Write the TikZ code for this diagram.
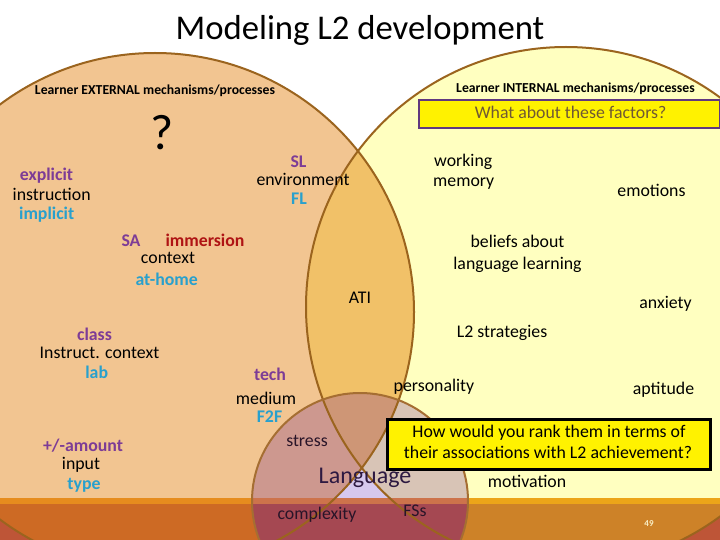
\documentclass[tikz,border=0pt]{standalone}
\usepackage{fontspec}
\setmainfont{Carlito}
\definecolor{peach}{RGB}{242,197,145}
\definecolor{yellowf}{RGB}{255,255,192}
\definecolor{lensc}{RGB}{241,193,104}
\definecolor{lav}{RGB}{214,200,238}
\definecolor{mauve}{RGB}{205,152,143}
\definecolor{greyb}{RGB}{216,196,182}
\definecolor{tanm}{RGB}{206,150,118}
\definecolor{bandout}{RGB}{190,85,55}
\definecolor{bandpeach}{RGB}{205,106,36}
\definecolor{bandyellow}{RGB}{205,130,40}
\definecolor{bandrose}{RGB}{165,72,82}
\definecolor{thinpeach}{RGB}{230,140,30}
\definecolor{thinyellow}{RGB}{236,165,25}
\definecolor{thinrose}{RGB}{205,115,75}
\definecolor{edgec}{RGB}{155,100,30}
\definecolor{edgeb}{RGB}{165,110,50}
\definecolor{purp}{RGB}{125,60,150}
\definecolor{cyanc}{RGB}{40,160,205}
\definecolor{dred}{RGB}{175,20,20}
\definecolor{boxtxt}{RGB}{112,88,52}
\definecolor{boxborder}{RGB}{96,56,128}
\definecolor{langcol}{RGB}{45,25,65}
\definecolor{darktxt}{RGB}{40,20,40}
\definecolor{numc}{RGB}{250,240,200}
\begin{document}
\begin{tikzpicture}[x=1pt,y=-1pt,
  t/.style={inner sep=0pt, anchor=base, font=\fontsize{17.8}{21}\selectfont},
  tb/.style={t, font=\fontsize{17.8}{21}\selectfont\bfseries},
  pu/.style={tb, text=purp},
  cy/.style={tb, text=cyanc},
  hd/.style={inner sep=0pt, anchor=base, font=\fontsize{13.7}{16}\selectfont\bfseries},
  bigedge/.style={draw=edgec, line width=2pt},
  smalledge/.style={draw=edgeb, line width=2pt}]
\useasboundingbox (0,0) rectangle (720,540);
\fill[white] (0,0) rectangle (720,540);
% big circles
\fill[peach] (155,312) circle[radius=259pt];
\fill[yellowf] (566,307) circle[radius=260pt];
\begin{scope}
  \clip (155,312) circle[radius=259pt];
  \fill[lensc] (566,307) circle[radius=260pt];
\end{scope}
% language circle
\begin{scope}
  \clip (360,501) circle[radius=108pt];
  \fill[lav] (0,0) rectangle (720,540);
  \fill[mauve] (155,312) circle[radius=259pt];
  \fill[greyb] (566,307) circle[radius=260pt];
  \clip (155,312) circle[radius=259pt];
  \fill[tanm] (566,307) circle[radius=260pt];
\end{scope}
% bottom band
\begin{scope}
  \clip (0,498) rectangle (720,504);
  \fill[bandout] (0,498) rectangle (720,504);
  \fill[thinpeach] (155,312) circle[radius=259pt];
  \fill[thinyellow] (566,307) circle[radius=260pt];
  \fill[thinrose] (360,501) circle[radius=108pt];
\end{scope}
\begin{scope}
  \clip (0,504) rectangle (720,540);
  \fill[bandout] (0,504) rectangle (720,540);
  \fill[bandpeach] (155,312) circle[radius=259pt];
  \fill[bandyellow] (566,307) circle[radius=260pt];
  \fill[bandrose] (360,501) circle[radius=108pt];
\end{scope}
% outlines
\draw[bigedge] (155,312) circle[radius=259pt];
\draw[bigedge] (566,307) circle[radius=260pt];
\draw[smalledge] (360,501) circle[radius=108pt];
% title
\node[inner sep=0pt, anchor=base, font=\fontsize{34.7}{40}\selectfont] (title) at (360,40) {Modeling L2 development};
% headers
\node[hd] (hext) at (155,95) {Learner EXTERNAL mechanisms/processes};
\node[hd] (hint) at (575.5,92.7) {Learner INTERNAL mechanisms/processes};
% yellow boxes
\node[draw=boxborder, line width=2pt, fill=yellow, minimum width=301pt, minimum height=28pt, inner sep=0pt, anchor=north west] (box1) at (418,99) {};
\node[t, text=boxtxt] (q1) at (570.6,119) {What about these factors?};
\node[inner sep=0pt, anchor=base, font=\fontsize{50}{56}\selectfont] (qm) at (162,150) {?};
% external
\node[pu] (expl) at (46.5,181) {explicit};
\node[t] (instr) at (51.7,200.7) {instruction};
\node[cy] (impl) at (46.7,219) {implicit};
\node[pu] (sl) at (298.5,168) {SL};
\node[t] (env) at (303,185.5) {environment};
\node[cy] (fl) at (299,205) {FL};
\node[pu] (sa) at (131,247) {SA};
\node[tb, text=dred] (imm) at (205,247) {immersion};
\node[t] (ctx) at (168,263) {context};
\node[cy] (ath) at (166.7,285) {at-home};
\node[pu] (cls) at (94.5,340.7) {class};
\node[t] (ictx) at (99.5,358.3) {Instruct. context};
\node[cy] (lab) at (96.7,378.3) {lab};
\node[pu] (tech) at (270,380) {tech};
\node[t] (med) at (266,404) {medium};
\node[cy] (f2f) at (269.5,422.7) {F2F};
\node[pu] (amt) at (83,451.7) {+/-amount};
\node[t] (inp) at (81,469) {input};
\node[cy] (typ) at (84,489) {type};
% internal
\node[t, anchor=base west] (wk) at (434,166.7) {working};
\node[t, anchor=base west] (mem) at (433,186.7) {memory};
\node[t] (emo) at (651.5,196.7) {emotions};
\node[t] (bel) at (517.5,247.7) {beliefs about};
\node[t] (lang) at (517.5,269.5) {language learning};
\node[t] (ati) at (360,303) {ATI};
\node[t] (anx) at (665.5,308) {anxiety};
\node[t] (strat) at (502,337.7) {L2 strategies};
\node[t] (pers) at (434,391.7) {personality};
\node[t] (apt) at (663.5,394) {aptitude};
\node[t] (mot) at (527,487.3) {motivation};
% language circle texts
\node[t, text=darktxt] (str) at (307,446) {stress};
\node[inner sep=0pt, anchor=base, font=\fontsize{24}{28}\selectfont, text=langcol] (lng) at (365,483) {Language};
\node[t, text=darktxt] (cpx) at (317,519.3) {complexity};
\node[t, text=darktxt] (fss) at (415,516.7) {FSs};
% question box
\node[draw=black, line width=3pt, fill=yellow, minimum width=323pt, minimum height=50pt, inner sep=0pt, anchor=north west] (box2) at (386,418) {};
\node[t] (q2a) at (549,437.7) {How would you rank them in terms of};
\node[t] (q2b) at (548,458.3) {their associations with L2 achievement?};
% page number
\node[inner sep=0pt, anchor=base, font=\fontsize{9}{10}\selectfont\bfseries, text=numc] (pg) at (649,526.7) {49};
\end{tikzpicture}
\end{document}
